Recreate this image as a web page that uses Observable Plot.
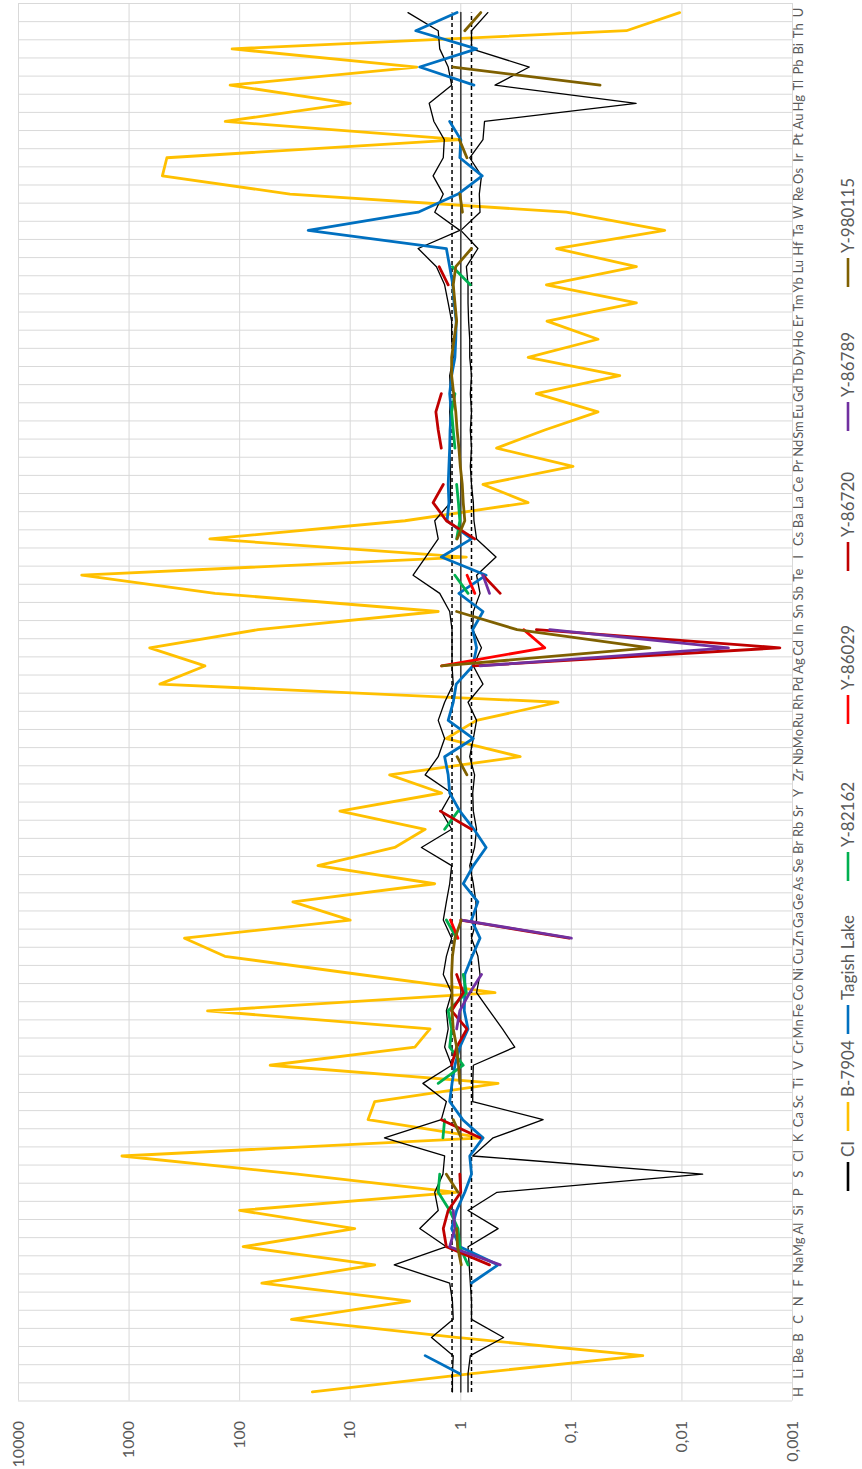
<!DOCTYPE html>
<html><head><meta charset="utf-8">
<script src="https://cdn.jsdelivr.net/npm/d3@7"></script>
<script src="https://cdn.jsdelivr.net/npm/@observablehq/plot@0.6"></script>
<style>
html,body{margin:0;padding:0;background:#fff;}
#wrap{display:flex;flex-direction:row;width:862px;height:1469px;overflow:hidden;font-family:Lato,"Open Sans",sans-serif;}
</style></head><body><div id="wrap"></div>
<script>
const elements = ["H","Li","Be","B","C","N","F","Na","Mg","Al","Si","P","S","Cl","K","Ca","Sc","Ti","V","Cr","Mn","Fe","Co","Ni","Cu","Zn","Ga","Ge","As","Se","Br","Rb","Sr","Y","Zr","Nb","Mo","Ru","Rh","Pd","Ag","Cd","In","Sn","Sb","Te","I","Cs","Ba","La","Ce","Pr","Nd","Sm","Eu","Gd","Tb","Dy","Ho","Er","Tm","Yb","Lu","Hf","Ta","W","Re","Os","Ir","Pt","Au","Hg","Tl","Pb","Bi","Th","U"];
const tickValues = [10000, 1000, 100, 10, 1, 0.1, 0.01, 0.001];
const tickLabels = ["10000", "1000", "100", "10", "1", "0,1", "0,01", "0,001"];
const seriesNames = ["CI", "B-7904", "Tagish Lake", "Y-82162", "Y-86029", "Y-86720", "Y-86789", "Y-980115"];
const seriesColors = ["#000000", "#FFC000", "#0070C0", "#00B050", "#FF0000", "#C00000", "#7030A0", "#7F6000"];
const ciBounds = [1.2, 0.8];

const ci = elements.map(() => 1);
const b7904 = [22,0.83,0.0226,1.1,34,2.9,63,6.0,93,9.1, 100,1.1,30,1160,0.63,6.9,6.0,0.46,53,2.6, 1.9,195,0.49,8.2,136,315,10,33,1.72,19.6, 3.96,2.1,12.4,1.49,4.4,0.29,1.35,0.72,0.132,527, 206,650,68,1.6,167,2680,0.89,186,3.2,0.246, 0.63,0.0966,0.475,0.174,0.0574,0.207,0.0365,0.246,0.0574,0.166, 0.0258,0.168,0.0258,0.136,0.0143,0.111,35,500,455,1.0, 135,10,122,2.5,117,0.0318,0.0105];
const tagishLake = [null,1.02,2.1,null,null,null,0.8,0.46,1.02,1.21, 1.09,0.92,0.8,0.83,0.63,0.96,1.26,1.2,1.13,1.02, 0.86,0.93,0.92,0.92,0.79,0.67,0.8,0.7,0.95,0.77, 0.59,0.76,1.02,1.26,1.3,1.4,0.77,1.3,1.17,1.1, 0.78,0.72,0.78,0.63,1.04,0.59,1.5,0.8,1.33,1.28, 1.3,1.28,1.26,1.25,1.22,1.26,1.21,1.13,1.11,1.1, 1.15,1.18,1.26,1.35,24,2.43,1.06,0.64,1.02,1.0, 1.26,null,0.76,2.35,0.72,2.55,1.08];
const y82162 = [null,null,null,null,null,null,null,0.86,1.02,1.06, 1.26,1.6,1.55,null,1.45,1.4,null,1.6,0.95,1.26, 1.21,1.3,0.89,0.95,null,1.09,1.35,null,null,null, null,1.4,1.06,null,null,null,null,null,null,null, null,null,null,null,0.86,1.13,null,1.09,1.02,1.05, 1.09,null,1.13,1.17,1.21,1.13,null,null,null,null, null,0.82,1.19,null,null,null,null,null,null,null, null,null,null,null,null,null,null];
const y86029 = [null,null,null,null,null,null,null,null,null,null, null,null,null,null,null,null,null,null,null,null, null,null,null,null,null,1.06,1.24,null,null,null, null,null,null,null,null,null,null,null,null,null, 1.49,0.174,0.27,null,0.747,0.877,null,null,null,null, null,null,null,null,null,null,null,null,null,null, null,null,null,null,null,null,null,null,null,null, null,null,null,null,null,null,null];
const y86720 = [null,null,null,null,null,null,null,0.55,1.35,1.44, 1.3,1.0,1.02,null,0.67,1.5,null,null,1.21,1.09, 0.88,1.21,0.95,1.09,null,0.105,1.0,null,null,null, null,0.8,1.53,null,null,null,null,null,null,null, 0.77,0.0013,0.207,null,0.44,0.63,null,0.75,1.35,1.78, 1.44,null,1.5,1.6,1.68,1.5,null,null,null,null, null,1.3,1.57,null,null,null,null,null,null,null, null,null,null,null,null,null,null];
const y86789 = [null,null,null,null,null,null,null,0.44,1.26,1.13, 1.17,null,null,null,null,null,null,null,null,null, 1.09,1.02,0.83,0.65,null,0.1,0.98,null,null,null, null,null,null,null,null,null,null,null,null,null, 0.67,0.0038,0.157,null,0.55,0.63,null,null,null,null, null,null,null,null,null,null,null,null,null,null, null,null,null,null,null,null,null,null,null,null, null,null,null,null,null,null,null];
const y980115 = [null,null,null,null,null,null,null,0.99,1.07,1.09, null,1.06,1.35,null,0.99,1.17,null,1.02,1.05,1.09, 1.17,1.2,1.2,1.21,1.19,1.13,0.99,null,null,null, null,null,null,null,0.88,1.08,null,null,null,null, 1.49,0.0195,0.31,1.09,null,null,null,1.08,0.92,0.95, 0.97,1.01,1.04,1.08,1.11,1.16,1.21,1.21,1.15,1.09, 1.13,1.17,1.11,0.8,null,0.966,1.02,null,0.88,1.03, null,null,0.055,1.17,null,0.92,0.66];
const ciUpper = [1.19,1.19,1.17,1.84,1.17,1.19,1.26,4.0,1.35,2.35, 1.6,1.72,1.45,1.4,4.9,1.5,1.35,2.2,1.21,1.4, 1.3,1.35,1.21,1.44,1.35,1.21,1.44,1.35,1.26,1.21, 2.27,1.21,1.5,1.21,2.1,1.6,1.4,1.6,1.4,1.17, 1.2,1.2,1.2,1.26,1.55,2.7,2.08,1.6,1.72,1.24, 1.24,1.24,1.26,1.24,1.26,1.24,1.26,1.17,1.21,1.21, 1.3,1.4,1.66,2.43,1.02,1.72,1.44,1.78,1.44,1.41, 1.75,1.93,1.21,1.3,1.55,1.6,3.0];
const ciLower = [0.86,0.86,0.82,0.41,0.8,0.8,0.82,0.84,0.86,0.46, 0.86,0.47,0.0065,0.78,0.51,0.18,0.78,0.78,0.77,0.325, 0.42,0.55,0.72,0.67,0.7,0.8,0.72,0.73,0.77,0.83, 0.75,0.72,0.77,0.78,0.75,0.83,0.77,0.72,0.86,0.63, 0.77,0.65,0.78,0.77,0.67,0.72,0.48,0.72,0.76,0.77, 0.8,0.82,0.8,0.82,0.8,0.82,0.8,0.83,0.83,0.85, 0.86,0.86,0.89,0.7,1.0,0.67,0.68,0.65,0.83,0.63, 0.61,0.026,0.49,0.24,0.8,0.8,0.57];

const seriesValues = [ci, b7904, tagishLake, y82162, y86029, y86720, y86789, y980115];
const toRows = vals => vals.map((v, i) => ({i, v: v == null ? NaN : v}));
const idx = elements.map((_, i) => i);
const boundaries = [...idx.map(i => i - 0.5), elements.length - 0.5];

const font = "Lato, 'Open Sans', sans-serif";
const lineOpts = (k, w) => ({x: "v", y: "i", stroke: seriesColors[k], strokeWidth: w, strokeLinejoin: "round", strokeLinecap: "round"});

const chart = Plot.plot({
  width: 826, height: 1469,
  marginLeft: 18, marginRight: 34, marginTop: 3, marginBottom: 68.5,
  x: {type: "log", domain: [10000, 0.001], axis: null, label: null},
  y: {domain: [-0.5, elements.length - 0.5], axis: null, label: null},
  style: {fontFamily: font, background: "white", overflow: "visible"},
  marks: [
    Plot.ruleY(boundaries, {stroke: "#d9d9d9", strokeWidth: 1}),
    Plot.ruleX(tickValues, {stroke: "#d9d9d9", strokeWidth: 1}),
    Plot.axisX({ticks: tickValues, tickFormat: v => tickLabels[tickValues.indexOf(v)], tickRotate: -90, tickSize: 0, tickPadding: 20, fontSize: 16, color: "#595959", label: null}),
    Plot.axisY({anchor: "right", ticks: idx, tickFormat: i => elements[i], tickRotate: -90, tickSize: 0, tickPadding: 10, fontSize: 13, color: "#595959", label: null}),
    Plot.line(toRows(b7904), lineOpts(1, 2.8)),
    Plot.line(toRows(ciUpper), lineOpts(0, 1.3)),
    Plot.line(toRows(ciLower), lineOpts(0, 1.3)),
    ...ciBounds.map(b => Plot.line(toRows(ci.map(() => b)), {...lineOpts(0, 1.5), strokeDasharray: "4,3", strokeLinecap: "butt"})),
    Plot.line(toRows(ci), {...lineOpts(0, 1.6), stroke: "#404040"}),
    Plot.line(toRows(tagishLake), lineOpts(2, 2.8)),
    Plot.line(toRows(y82162), lineOpts(3, 2.8)),
    Plot.line(toRows(y86029), lineOpts(4, 2.8)),
    Plot.line(toRows(y86720), lineOpts(5, 2.8)),
    Plot.line(toRows(y86789), lineOpts(6, 2.8)),
    Plot.line(toRows(y980115), lineOpts(7, 2.8))
  ]
});

const wrap = document.getElementById("wrap");
wrap.appendChild(chart);

// legend (reads bottom-to-top like the rotated original)
const legendTextBottom = [1157, 1097, 1000, 847, 690, 537, 397, 253];
const legend = d3.create("svg").attr("width", 36).attr("height", 1469).style("font-family", font);
seriesNames.forEach((name, k) => {
  const yb = legendTextBottom[k];
  legend.append("line").attr("x1", 22).attr("x2", 22).attr("y1", yb + 5).attr("y2", yb + 34)
    .attr("stroke", seriesColors[k]).attr("stroke-width", 2.6);
  legend.append("text").attr("transform", `translate(22,${yb}) rotate(-90)`)
    .attr("dy", "0.35em").attr("text-anchor", "start").attr("font-size", 17).attr("fill", "#595959").text(name);
});
wrap.appendChild(legend.node());
</script></body></html>
